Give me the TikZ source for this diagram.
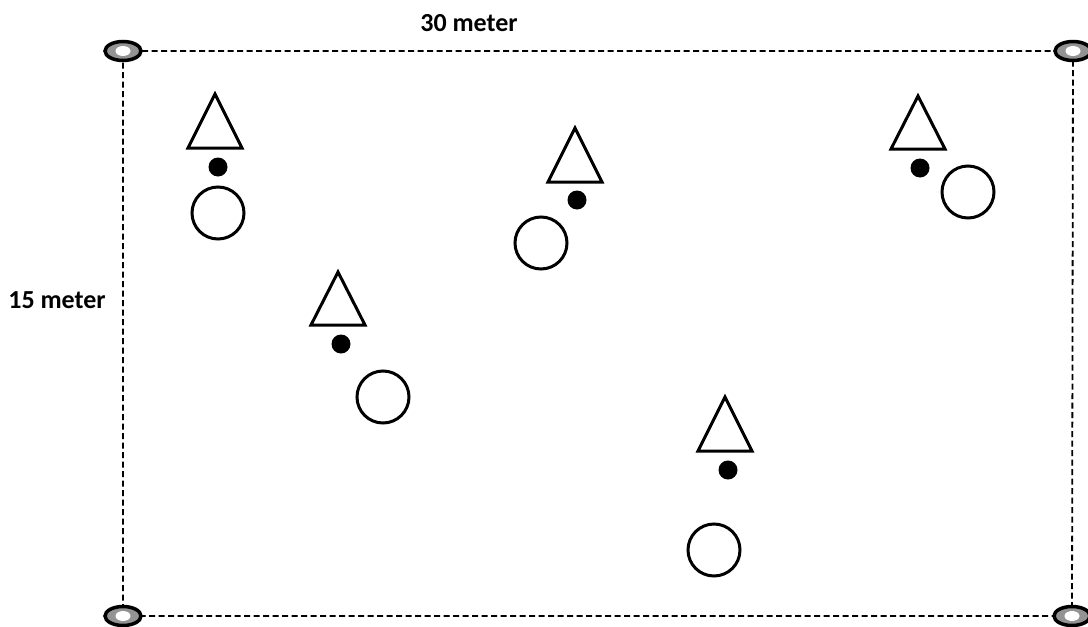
\documentclass[tikz,border=0pt]{standalone}
\usepackage{fontspec}
\setmainfont{Carlito}
\usetikzlibrary{shapes.geometric}
\tikzset{
  boundary/.style={dash pattern=on 6pt off 3.5pt, line width=1.8pt},
  marker/.style={ellipse, draw, line width=3.5pt, fill=gray!85, minimum width=36pt, minimum height=19pt, inner sep=0pt},
  hole/.style={ellipse, fill=white, minimum width=15pt, minimum height=10pt, inner sep=0pt},
  cone/.style={line width=3pt, line join=miter},
  ring/.style={circle, draw, line width=3pt, minimum size=52pt, inner sep=0pt},
  ball/.style={circle, fill=black, minimum size=19pt, inner sep=0pt},
  dimtext/.style={font=\bfseries\fontsize{26}{30}\selectfont, inner sep=0pt}
}
\begin{document}
\begin{tikzpicture}[x=1pt, y=-1pt]
    \useasboundingbox (0,0) rectangle (1088,627);
    % field corners
    \coordinate (tl) at (123,51);
    \coordinate (tr) at (1073,51);
    \coordinate (br) at (1072,616);
    \coordinate (bl) at (123,616);
    \draw[boundary] (tl) -- (tr) -- (br) -- (bl) -- cycle;
    \foreach \c in {tl,tr,br,bl} {
        \node[marker] (m-\c) at (\c) {};
        \node[hole] at (m-\c) {};
    }
    \node[dimtext] (length) at (469,23) {30 meter};
    \node[dimtext] (width) at (57,300) {15 meter};
    % cones
    \draw[cone] (215,94) -- ++(27,54) -- ++(-54,0) -- cycle;
    \draw[cone] (338,272) -- ++(27,53) -- ++(-54,0) -- cycle;
    \draw[cone] (575,128) -- ++(27,54) -- ++(-54,0) -- cycle;
    \draw[cone] (918,96) -- ++(27,53) -- ++(-54,0) -- cycle;
    \draw[cone] (725,397) -- ++(27,54) -- ++(-54,0) -- cycle;
    % balls
    \node[ball] (b1) at (218,167) {};
    \node[ball] (b2) at (341,344) {};
    \node[ball] (b3) at (577,200) {};
    \node[ball] (b4) at (920,168) {};
    \node[ball] (b5) at (728,470) {};
    % hoops
    \node[ring] (r1) at (218,213) {};
    \node[ring] (r2) at (383,397) {};
    \node[ring] (r3) at (541,243) {};
    \node[ring] (r4) at (968,192) {};
    \node[ring] (r5) at (714,550) {};
\end{tikzpicture}
\end{document}
